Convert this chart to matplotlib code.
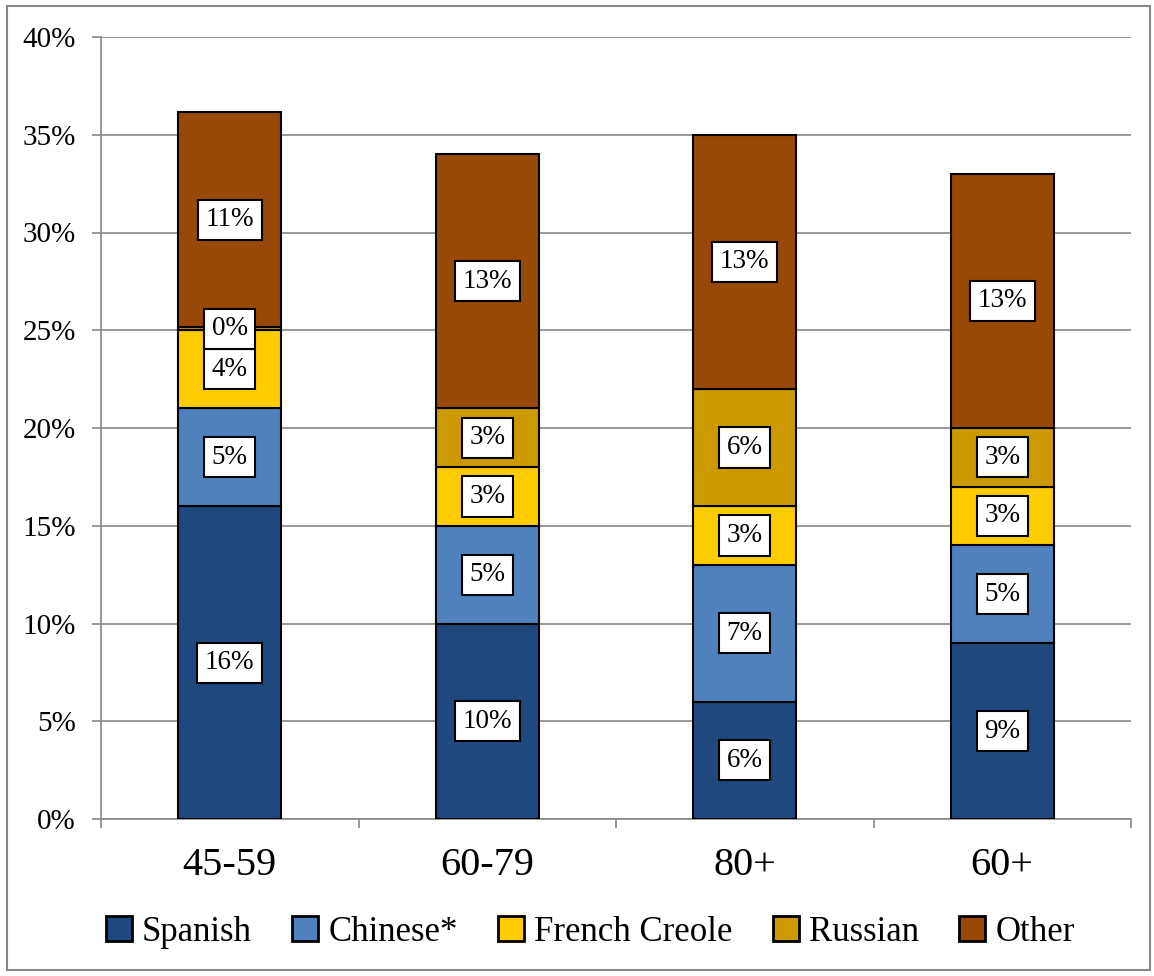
import matplotlib.pyplot as plt
from matplotlib.patches import Rectangle
import numpy as np

plt.rcParams['font.family'] = ['Liberation Serif', 'DejaVu Serif']

groups = ['45-59', '60-79', '80+', '60+']
series = ['Spanish', 'Chinese*', 'French Creole', 'Russian', 'Other']
spanish = [16, 10, 6, 9]
chinese = [5, 5, 7, 5]
creole = [4, 3, 3, 3]
russian = [0.15, 3, 6, 3]
other = [11, 13, 13, 13]
colors = ['#1F497D', '#4F81BD', '#FFCC00', '#CC9900', '#984807']

fig = plt.figure(figsize=(11.54, 9.76), dpi=100)
ax = fig.add_axes([101 / 1154, 1 - 819 / 976, 1030 / 1154, 782 / 976])

# рамка вокруг всей картинки
fig.patches.append(Rectangle((7 / 1154, 6 / 976), 1143 / 1154, 964 / 976,
                             transform=fig.transFigure, fill=False,
                             edgecolor='#888888', linewidth=1.5))

x = np.arange(len(groups))
bottom = np.zeros(len(groups))
for name, vals, col in zip(series, [spanish, chinese, creole, russian, other], colors):
    vals = np.array(vals, dtype=float)
    ax.bar(x, vals, 0.4, bottom=bottom, color=col, edgecolor='black',
           linewidth=1.5, label=name, zorder=3)
    for xi, b, v in zip(x, bottom, vals):
        ax.text(xi, b + v / 2, '%d%%' % round(v), ha='center', va='center',
                fontsize=19.5, zorder=4,
                bbox=dict(boxstyle='square,pad=0.28', facecolor='white',
                          edgecolor='black', linewidth=1.5))
    bottom += vals

ax.set_xlim(-0.5, 3.5)
ax.set_ylim(0, 40)
ax.set_yticks(range(0, 41, 5))
ax.set_yticklabels(['%d%%' % v for v in range(0, 41, 5)], fontsize=21)
ax.yaxis.grid(True, color='#888888', linewidth=1.2, zorder=0)
ax.set_xticks(x)
ax.set_xticklabels(groups, fontsize=29)
ax.set_xticks(np.arange(-0.5, 4, 1), minor=True)
ax.tick_params(axis='x', which='major', length=0, pad=20)
ax.tick_params(axis='x', which='minor', length=6.5, color='#888888', width=1.2)
ax.tick_params(axis='y', length=6.5, color='#888888', width=1.2, pad=11.5)
for s in ['top', 'right']:
    ax.spines[s].set_visible(False)
ax.spines['left'].set_color('#888888')
ax.spines['bottom'].set_color('#888888')
ax.spines['left'].set_linewidth(1.2)
ax.spines['bottom'].set_linewidth(1.2)

leg = ax.legend(loc='center', bbox_to_anchor=(0.475, -0.145), ncol=5, frameon=False,
                fontsize=25, handlelength=0.75, handleheight=0.75, handletextpad=0.3,
                columnspacing=1.15)
for h in leg.legend_handles:
    h.set_linewidth(2)

plt.savefig('out.png', dpi=100)
